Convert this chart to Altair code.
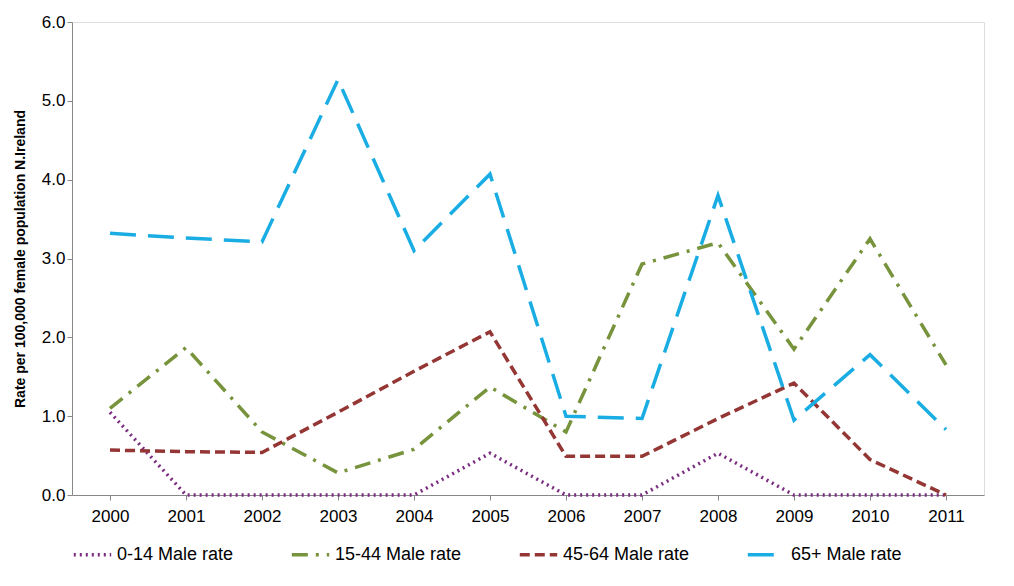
import altair as alt
import pandas as pd

years = [str(y) for y in range(2000, 2012)]
r0_14 = [1.05, 0, 0, 0, 0, 0.53, 0, 0, 0.53, 0, 0, 0]
r15_44 = [1.1, 1.87, 0.8, 0.28, 0.58, 1.37, 0.8, 2.93, 3.2, 1.85, 3.25, 1.65]
r45_64 = [0.57, 0.55, 0.54, 1.05, 1.57, 2.07, 0.49, 0.49, 0.97, 1.42, 0.45, 0.0]
r65 = [3.32, 3.26, 3.21, 5.27, 3.1, 4.07, 1.0, 0.97, 3.8, 0.95, 1.78, 0.83]

names = ["0-14 Male rate", "15-44 Male rate", "45-64 Male rate", "65+ Male rate"]
rows = []
for n, vals in zip(names, [r0_14, r15_44, r45_64, r65]):
    for y, v in zip(years, vals):
        rows.append({"year": y, "rate": v, "series": n})
df = pd.DataFrame(rows)

chart = alt.Chart(df).mark_line(strokeWidth=3.5).encode(
    x=alt.X("year:O", title=None, scale=alt.Scale(paddingOuter=0.55),
            axis=alt.Axis(labelAngle=0, labelFontSize=17, labelColor="black",
                          domainColor="#888", tickColor="#888", labelPadding=8)),
    y=alt.Y("rate:Q", title="Rate per 100,000 female population N.Ireland",
            scale=alt.Scale(domain=[0, 6]),
            axis=alt.Axis(values=[0, 1, 2, 3, 4, 5, 6], format=".1f", grid=False,
                          labelFontSize=17, labelColor="black", titleFontSize=14,
                          titlePadding=14,
                          domainColor="#888", tickColor="#888", titleFontWeight="bold")),
    color=alt.Color("series:N", title=None,
                    scale=alt.Scale(domain=names, range=["#7B2C80", "#77933C", "#943634", "#1AADE4"]),
                    legend=alt.Legend(orient="bottom", direction="horizontal", labelFontSize=18,
                                      symbolType="stroke", symbolSize=1400, symbolStrokeWidth=3.5,
                                      columnPadding=50, offset=10, labelColor="black")),
    strokeDash=alt.StrokeDash("series:N",
                              scale=alt.Scale(domain=names, range=[[2, 4], [16, 8, 3, 8], [10, 5], [26, 12]])),
).properties(width=912, height=473).configure_view(stroke=None).configure(font="Liberation Sans")

chart.save("out.html", embed_options={"renderer": "svg", "actions": False})
